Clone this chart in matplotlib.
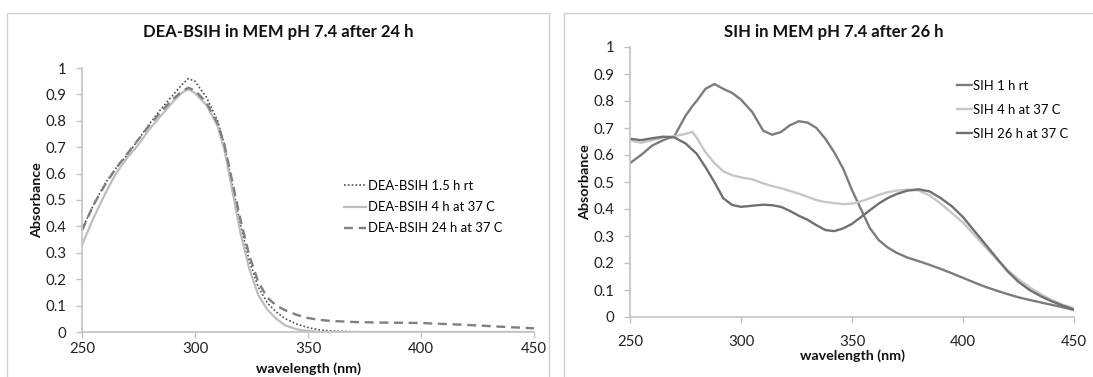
import matplotlib
matplotlib.use("Agg")
import matplotlib.pyplot as plt
from matplotlib.patches import Rectangle

plt.rcParams['font.family'] = ['Lato', 'DejaVu Sans']

# DEA-BSIH spectra (wavelength nm, absorbance)
dea_wl = [250, 255, 260, 265, 270, 275, 280, 285, 290, 294, 297, 300, 305, 310, 313,
          316, 320, 324, 328, 332, 336, 340, 345, 350, 355, 360, 370, 380, 400, 420,
          440, 450]
dea_rt = [0.39, 0.48, 0.56, 0.62, 0.67, 0.73, 0.79, 0.845, 0.895, 0.935, 0.96, 0.95,
          0.89, 0.80, 0.71, 0.58, 0.41, 0.27, 0.17, 0.11, 0.075, 0.05, 0.03, 0.017,
          0.008, 0.004, 0.001, 0.0, 0.0, 0.0, 0.0, 0.0]
dea_4h = [0.33, 0.43, 0.52, 0.60, 0.66, 0.71, 0.77, 0.82, 0.87, 0.905, 0.92, 0.905,
          0.86, 0.78, 0.69, 0.56, 0.38, 0.24, 0.14, 0.085, 0.05, 0.025, 0.01, 0.004,
          0.0, 0.0, 0.0, 0.0, 0.0, 0.0, 0.0, 0.0]
dea_24h = [0.385, 0.48, 0.555, 0.62, 0.675, 0.73, 0.785, 0.835, 0.88, 0.91, 0.925,
           0.915, 0.87, 0.79, 0.71, 0.59, 0.43, 0.29, 0.19, 0.13, 0.10, 0.082, 0.065,
           0.053, 0.046, 0.042, 0.038, 0.036, 0.034, 0.027, 0.018, 0.014]
dea_labels = ['DEA-BSIH 1.5 h rt', 'DEA-BSIH 4 h at 37 C', 'DEA-BSIH 24 h at 37 C']

# SIH spectra
sih_wl = [250, 255, 260, 265, 270, 275, 278, 280, 284, 288, 292, 296, 300, 305, 310,
          314, 318, 322, 326, 330, 334, 338, 342, 346, 350, 354, 358, 362, 366, 370,
          375, 380, 385, 390, 395, 400, 405, 410, 415, 420, 425, 430, 435, 440, 445, 450]
sih_1h = [0.57, 0.60, 0.635, 0.655, 0.67, 0.745, 0.78, 0.80, 0.845, 0.863, 0.845,
          0.83, 0.805, 0.76, 0.69, 0.675, 0.685, 0.71, 0.725, 0.72, 0.70, 0.66, 0.61,
          0.55, 0.47, 0.40, 0.33, 0.285, 0.258, 0.238, 0.22, 0.207, 0.193, 0.178,
          0.162, 0.145, 0.128, 0.112, 0.098, 0.085, 0.073, 0.063, 0.054, 0.045, 0.036,
          0.026]
sih_4h = [0.655, 0.645, 0.655, 0.665, 0.67, 0.678, 0.686, 0.665, 0.61, 0.57, 0.54,
          0.525, 0.517, 0.51, 0.495, 0.485, 0.477, 0.467, 0.457, 0.445, 0.433, 0.426,
          0.422, 0.418, 0.42, 0.428, 0.44, 0.452, 0.462, 0.468, 0.472, 0.468, 0.45,
          0.42, 0.385, 0.35, 0.305, 0.26, 0.215, 0.175, 0.14, 0.11, 0.085, 0.063,
          0.045, 0.033]
sih_26h = [0.66, 0.655, 0.662, 0.668, 0.665, 0.643, 0.62, 0.605, 0.555, 0.50, 0.44,
           0.415, 0.408, 0.412, 0.416, 0.414, 0.408, 0.393, 0.375, 0.36, 0.34, 0.322,
           0.318, 0.328, 0.345, 0.37, 0.395, 0.42, 0.44, 0.455, 0.468, 0.473, 0.465,
           0.44, 0.41, 0.37, 0.32, 0.27, 0.22, 0.17, 0.13, 0.10, 0.077, 0.058, 0.042,
           0.027]
sih_labels = ['SIH 1 h rt', 'SIH 4 h at 37 C', 'SIH 26 h at 37 C']

x_ticks = [250, 300, 350, 400, 450]
y_ticks = [0, 0.1, 0.2, 0.3, 0.4, 0.5, 0.6, 0.7, 0.8, 0.9, 1]
y_ticklabels = ['0', '0.1', '0.2', '0.3', '0.4', '0.5', '0.6', '0.7', '0.8', '0.9', '1']

W, H = 1093, 377
fig = plt.figure(figsize=(W / 100, H / 100), dpi=100)


def fx(px):
    return px / W


def fy(py):
    return 1 - py / H


# chart-area frames
for (x0, y0, x1, y1) in [(7, 13, 549, 385), (564, 13, 1110, 385)]:
    fig.add_artist(Rectangle((fx(x0), fy(y1)), (x1 - x0) / W, (y1 - y0) / H,
                             transform=fig.transFigure, fill=False,
                             edgecolor='#cfcfcf', linewidth=1.0))

ax1 = fig.add_axes([fx(82), fy(332), (534 - 82) / W, (332 - 68) / H])
ax2 = fig.add_axes([fx(630), fy(317), (1074 - 630) / W, (317 - 47) / H])

ax1.plot(dea_wl, dea_rt, color='#4d4d4d', linestyle=(0, (1, 1.3)), linewidth=1.2,
         label=dea_labels[0])
ax1.plot(dea_wl, dea_4h, color='#bdbdbd', linestyle='-', linewidth=1.6,
         label=dea_labels[1])
ax1.plot(dea_wl, dea_24h, color='#808080', linestyle=(0, (3.8, 2.4)), linewidth=1.7,
         label=dea_labels[2])

ax2.plot(sih_wl, sih_1h, color='#7c7c7c', linewidth=1.7, label=sih_labels[0])
ax2.plot(sih_wl, sih_4h, color='#c6c6c6', linewidth=1.7, label=sih_labels[1])
ax2.plot(sih_wl, sih_26h, color='#707070', linewidth=1.7, label=sih_labels[2])

for ax in (ax1, ax2):
    ax.set_xlim(250, 450)
    ax.set_ylim(0, 1)
    ax.set_xticks(x_ticks)
    ax.set_xticklabels([str(t) for t in x_ticks])
    ax.set_yticks(y_ticks)
    ax.set_yticklabels(y_ticklabels)
    for s in ('top', 'right'):
        ax.spines[s].set_visible(False)
    for s in ('left', 'bottom'):
        ax.spines[s].set_color('#c2c2c2')
        ax.spines[s].set_linewidth(1.2)
    ax.tick_params(axis='both', colors='#c2c2c2', labelcolor='#222222',
                   labelsize=10.8, length=4, width=1.0, direction='out')
    ax.tick_params(axis='y', pad=7)

ax1.tick_params(axis='x', pad=3)
ax2.tick_params(axis='x', pad=9)

# titles centred on each chart area
fig.text(fx(278), fy(32), 'DEA-BSIH in MEM pH 7.4 after 24 h', fontsize=12,
         fontweight='bold', color='#111111', ha='center', va='center')
fig.text(fx(834), fy(32), 'SIH in MEM pH 7.4 after 26 h', fontsize=12,
         fontweight='bold', color='#111111', ha='center', va='center')

# axis titles
fig.text(fx(37), fy(200), 'Absorbance', fontsize=10.3, fontweight='bold',
         color='#111111', rotation=90, ha='center', va='center')
fig.text(fx(585), fy(182), 'Absorbance', fontsize=10.3, fontweight='bold',
         color='#111111', rotation=90, ha='center', va='center')
fig.text(fx(308), fy(369), 'wavelength (nm)', fontsize=10.3, fontweight='bold',
         color='#111111', ha='center', va='center')
fig.text(fx(852), fy(356), 'wavelength (nm)', fontsize=10.3, fontweight='bold',
         color='#111111', ha='center', va='center')

ax1.legend(loc='upper left', bbox_to_anchor=(fx(344), fy(180)),
           bbox_transform=fig.transFigure, frameon=False, fontsize=9.4,
           handlelength=1.65, handletextpad=0.15, labelspacing=0.7,
           borderpad=0, borderaxespad=0)
ax2.legend(loc='upper left', bbox_to_anchor=(fx(957), fy(80)),
           bbox_transform=fig.transFigure, frameon=False, fontsize=9.4,
           handlelength=1.15, handletextpad=0.1, labelspacing=0.9,
           borderpad=0, borderaxespad=0)

fig.savefig('out.png', dpi=100, facecolor='white')
